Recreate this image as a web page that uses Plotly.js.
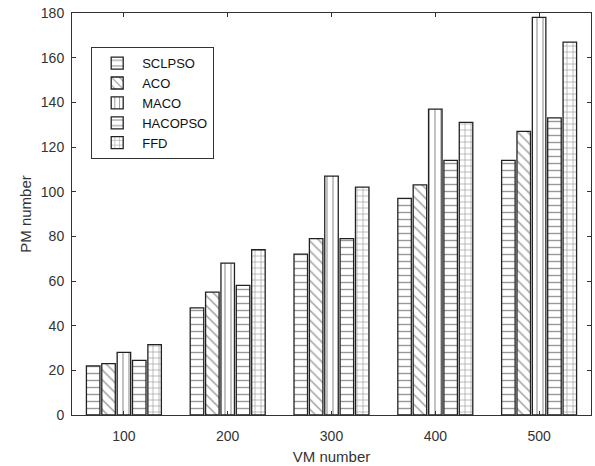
<!DOCTYPE html>
<html><head><meta charset="utf-8">
<script src="https://cdn.plot.ly/plotly-3.0.1.min.js"></script>
<style>html,body{margin:0;padding:0;background:#fff}#c{width:595px;height:466px}</style>
</head><body><div id="c"></div>
<script>
const categories = ['100','200','300','400','500'];
const seriesNames = ['SCLPSO','ACO','MACO','HACOPSO','FFD'];
const SCLPSO = [22, 48, 72, 97, 114];
const ACO = [23, 55, 79, 103, 127];
const MACO = [28, 68, 107, 137, 178];
const HACOPSO = [24.5, 58, 79, 114, 133];
const FFD = [31.5, 74, 102, 131, 167];
const yTicks = [0,20,40,60,80,100,120,140,160,180];

const seriesValues = [SCLPSO, ACO, MACO, HACOPSO, FFD];
const shapes = ['-', '\\', '|', '-', '+'];
const sizes = [7, 7, 6, 7, 6];
const traces = seriesNames.map((n,i)=>({
  type:'bar', name:n, x:categories, y:seriesValues[i],
  marker:{color:'#ffffff', line:{color:'#222', width:1.3},
    pattern:{shape:shapes[i], fgcolor:'#333', bgcolor:'#ffffff', size:sizes[i], solidity:0.2, fillmode:'overlay'}}
}));
const layout = {
  width:595, height:466,
  margin:{l:72, r:4, t:13, b:51},
  paper_bgcolor:'#fff', plot_bgcolor:'#fff',
  font:{family:'Liberation Sans, Arial, sans-serif', color:'#333', size:14},
  barmode:'group', bargap:0.26, bargroupgap:0.12,
  showlegend:true,
  legend:{x:0.037, y:0.915, xanchor:'left', yanchor:'top', bgcolor:'#fff', bordercolor:'#333', borderwidth:1,
    font:{size:13, color:'#111'}, tracegroupgap:0, itemwidth:40},
  xaxis:{type:'category', showline:true, mirror:'ticks', linecolor:'#333', linewidth:1,
    ticks:'inside', ticklen:4, tickcolor:'#333', ticklabelstandoff:8,
    title:{text:'VM number', font:{size:15}, standoff:8}},
  yaxis:{range:[0,180], tickvals:yTicks, showline:true, mirror:'ticks', linecolor:'#333', linewidth:1,
    ticks:'inside', ticklen:4, tickcolor:'#333', showgrid:false, zeroline:false, ticklabelstandoff:4,
    title:{text:'PM number', font:{size:15}, standoff:5}}
};
Plotly.newPlot('c', traces, layout, {displayModeBar:false});
</script></body></html>
